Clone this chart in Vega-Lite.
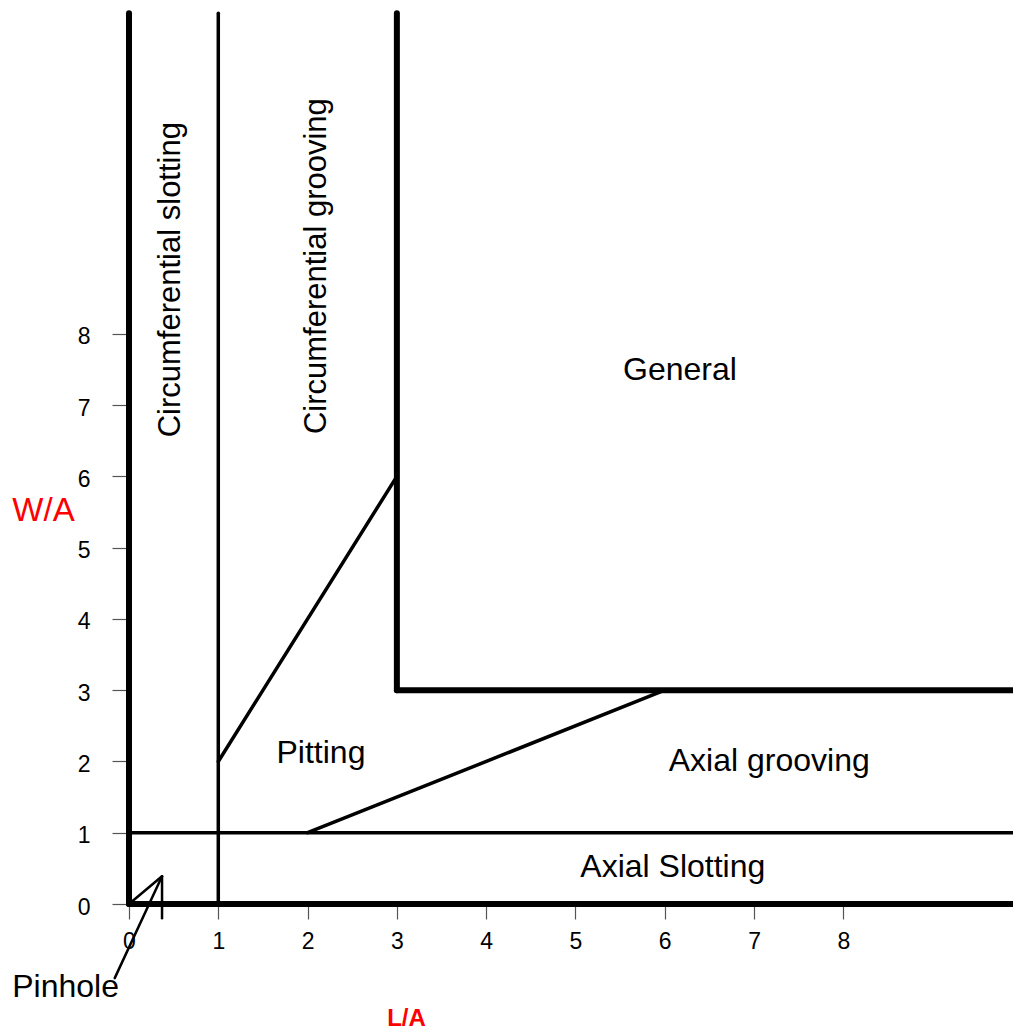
{
  "$schema": "https://vega.github.io/schema/vega-lite/v6.json",
  "width": 884,
  "height": 898,
  "autosize": {"type": "none"},
  "padding": {"left": 129, "top": 6, "right": 0, "bottom": 128},
  "background": "white",
  "config": {"view": {"stroke": null}, "font": "Liberation Sans"},
  "datasets": {
    "lines": [
      {"kind": "boundary", "la": 0, "wa": 0, "la2": 0, "wa2": 12.5},
      {"kind": "boundary", "la": 3, "wa": 3, "la2": 3, "wa2": 12.5},
      {"kind": "boundary", "la": 3, "wa": 3, "la2": 9.9, "wa2": 3},
      {"kind": "boundary", "la": 0, "wa": 0, "la2": 9.9, "wa2": 0},
      {"kind": "divider", "la": 1, "wa": 0, "la2": 1, "wa2": 12.5},
      {"kind": "divider", "la": 0, "wa": 1, "la2": 9.9, "wa2": 1},
      {"kind": "divider", "la": 1, "wa": 2, "la2": 3, "wa2": 6},
      {"kind": "divider", "la": 2, "wa": 1, "la2": 6, "wa2": 3},
      {"kind": "pinhole", "la": 0, "wa": 0, "la2": 0.37, "wa2": 0.39},
      {"kind": "pinhole", "la": 0.37, "wa": 0.39, "la2": 0.37, "wa2": -0.2},
      {"kind": "pinhole", "la": 0.37, "wa": 0.39, "la2": -0.16, "wa2": -1.04}
    ],
    "labels": [
      {"label": "General", "la": 6.17, "wa": 7.49, "orient": "h"},
      {"label": "Pitting", "la": 2.15, "wa": 2.12, "orient": "h"},
      {"label": "Axial grooving", "la": 7.17, "wa": 2.0, "orient": "h"},
      {"label": "Axial Slotting", "la": 6.09, "wa": 0.52, "orient": "h"},
      {"label": "Pinhole", "la": -0.71, "wa": -1.16, "orient": "h"},
      {"label": "Circumferential slotting", "la": 0.47, "wa": 8.76, "orient": "v"},
      {"label": "Circumferential grooving", "la": 2.1, "wa": 8.95, "orient": "v"}
    ]
  },
  "encoding": {
    "x": {
      "field": "la", "type": "quantitative",
      "scale": {"domain": [0, 9.9], "nice": false, "zero": false},
      "axis": {
        "title": "L/A", "values": [0, 1, 2, 3, 4, 5, 6, 7, 8], "format": "d",
        "domain": false, "grid": false, "tickSize": 15, "tickColor": "#555", "tickWidth": 1.2,
        "labelFontSize": 23, "labelColor": "black", "labelPadding": 11, "labelFlush": false, "labelOverlap": false, "labelFont": "Liberation Sans",
        "titleColor": "#ff0000", "titleFontSize": 24, "titleFontWeight": "bold", "titleFont": "Liberation Sans",
        "titleX": 277, "titleY": 114, "titleAlign": "center", "titleBaseline": "middle"
      }
    },
    "y": {
      "field": "wa", "type": "quantitative",
      "scale": {"domain": [0, 12.6], "nice": false, "zero": false},
      "axis": {
        "title": "W/A", "values": [0, 1, 2, 3, 4, 5, 6, 7, 8], "format": "d",
        "domain": false, "grid": false, "tickSize": 17, "tickColor": "#555", "tickWidth": 1.2,
        "labelFontSize": 23, "labelColor": "black", "labelPadding": 22, "labelOffset": 3, "labelFlush": false, "labelOverlap": false, "labelFont": "Liberation Sans",
        "titleColor": "#ff0000", "titleFontSize": 33, "titleFontWeight": "normal", "titleFont": "Liberation Sans",
        "titleAngle": 0, "titleX": -86, "titleY": 504, "titleAlign": "center", "titleBaseline": "middle"
      }
    }
  },
  "layer": [
    {
      "data": {"name": "lines"},
      "transform": [{"filter": "datum.kind == 'boundary'"}],
      "mark": {"type": "rule", "strokeCap": "round", "color": "black", "strokeWidth": 6, "clip": false},
      "encoding": {"x2": {"field": "la2"}, "y2": {"field": "wa2"}}
    },
    {
      "data": {"name": "lines"},
      "transform": [{"filter": "datum.kind == 'divider'"}],
      "mark": {"type": "rule", "strokeCap": "round", "color": "black", "strokeWidth": 3.5, "clip": false},
      "encoding": {"x2": {"field": "la2"}, "y2": {"field": "wa2"}}
    },
    {
      "data": {"name": "lines"},
      "transform": [{"filter": "datum.kind == 'pinhole'"}],
      "mark": {"type": "rule", "strokeCap": "round", "color": "black", "strokeWidth": 2.5, "clip": false},
      "encoding": {"x2": {"field": "la2"}, "y2": {"field": "wa2"}}
    },
    {
      "data": {"name": "labels"},
      "transform": [{"filter": "datum.orient == 'h'"}],
      "mark": {"type": "text", "fontSize": 32, "font": "Liberation Sans", "align": "center", "baseline": "middle", "color": "black", "clip": false},
      "encoding": {"text": {"field": "label"}}
    },
    {
      "data": {"name": "labels"},
      "transform": [{"filter": "datum.orient == 'v'"}],
      "mark": {"type": "text", "fontSize": 31, "font": "Liberation Sans", "align": "center", "baseline": "middle", "angle": 270, "color": "black", "clip": false},
      "encoding": {"text": {"field": "label"}}
    }
  ]
}
